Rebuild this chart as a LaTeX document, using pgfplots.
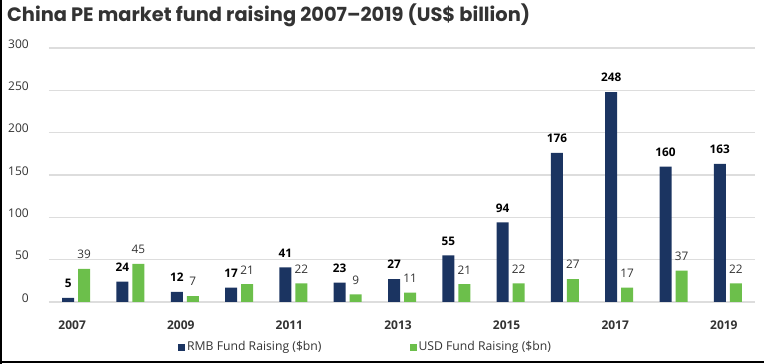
\documentclass[border=0pt]{standalone}
\usepackage{fontspec}
\setmainfont{Open Sans}
\newfontfamily\titlefont{Poppins}
\usepackage{pgfplots}
\pgfplotsset{compat=1.18}
\definecolor{rmb}{HTML}{1B3461}
\definecolor{usd}{HTML}{6CBF4B}
\definecolor{gridc}{HTML}{DDDDDD}
\definecolor{txt}{HTML}{333333}
\begin{document}
\begin{tikzpicture}[x=1pt,y=1pt]
\useasboundingbox (-49,-62) rectangle (715,302);
\begin{axis}[
  at={(0,0)}, anchor=south west,
  scale only axis, width=706pt, height=254pt,
  ybar=4pt, bar width=12pt,
  xmin=-0.5, xmax=12.5, ymin=0, ymax=300,
  ytick={0,50,...,300},
  xtick={0,2,...,12},
  xticklabels={2007,2009,2011,2013,2015,2017,2019},
  axis line style={draw=none}, major tick length=0pt,
  ymajorgrids, grid style={gridc, line width=1.2pt},
  /pgf/number format/assume math mode=true,
  ticklabel style={font=\fontsize{12}{14}\selectfont, text=txt},
  yticklabel style={anchor=east, inner sep=0pt, xshift=-20pt, yshift=4pt},
  xticklabel style={anchor=north, inner sep=0pt, yshift=-19pt, xshift=-4pt, font=\fontsize{12}{14}\selectfont\bfseries},
  nodes near coords,
  nodes near coords style={anchor=south, inner sep=0pt, yshift=10pt, font=\fontsize{11.8}{14}\selectfont, text=txt},
  legend columns=2,
  legend image code/.code={\fill[#1,draw=none] (0pt,-3.5pt) rectangle (7pt,3.5pt);},
  legend style={at={(0.1827,-0.1772)}, anchor=west, draw=none, inner sep=0pt,
    font=\fontsize{12.2}{14}\selectfont, text=txt,
    /tikz/every even column/.append style={column sep=86pt}},
]
\addplot[fill=rmb, draw=none, nodes near coords style={font=\fontsize{11.8}{14}\selectfont\bfseries, text=black}] coordinates {
(0,5) (1,24) (2,12) (3,17) (4,41) (5,23) (6,27) (7,55) (8,94) (9,176) (10,248) (11,160) (12,163)};
\addplot[fill=usd, draw=none] coordinates {
(0,39) (1,45) (2,7) (3,21) (4,22) (5,9) (6,11) (7,21) (8,22) (9,27) (10,17) (11,37) (12,22)};
\legend{RMB Fund Raising (\$bn), USD Fund Raising (\$bn)}
\end{axis}
\node[anchor=base west, inner sep=0pt, text=txt, font=\titlefont\bfseries\fontsize{19.4}{22}\selectfont] at (-42,280) {China PE market fund raising 2007–2019 (US\$ billion)};
\draw[black, line width=1.5pt] (-48.2,-62) -- (-48.2,302);
\draw[black, line width=2pt] (-49,-60) -- (715,-60);
\end{tikzpicture}
\end{document}
